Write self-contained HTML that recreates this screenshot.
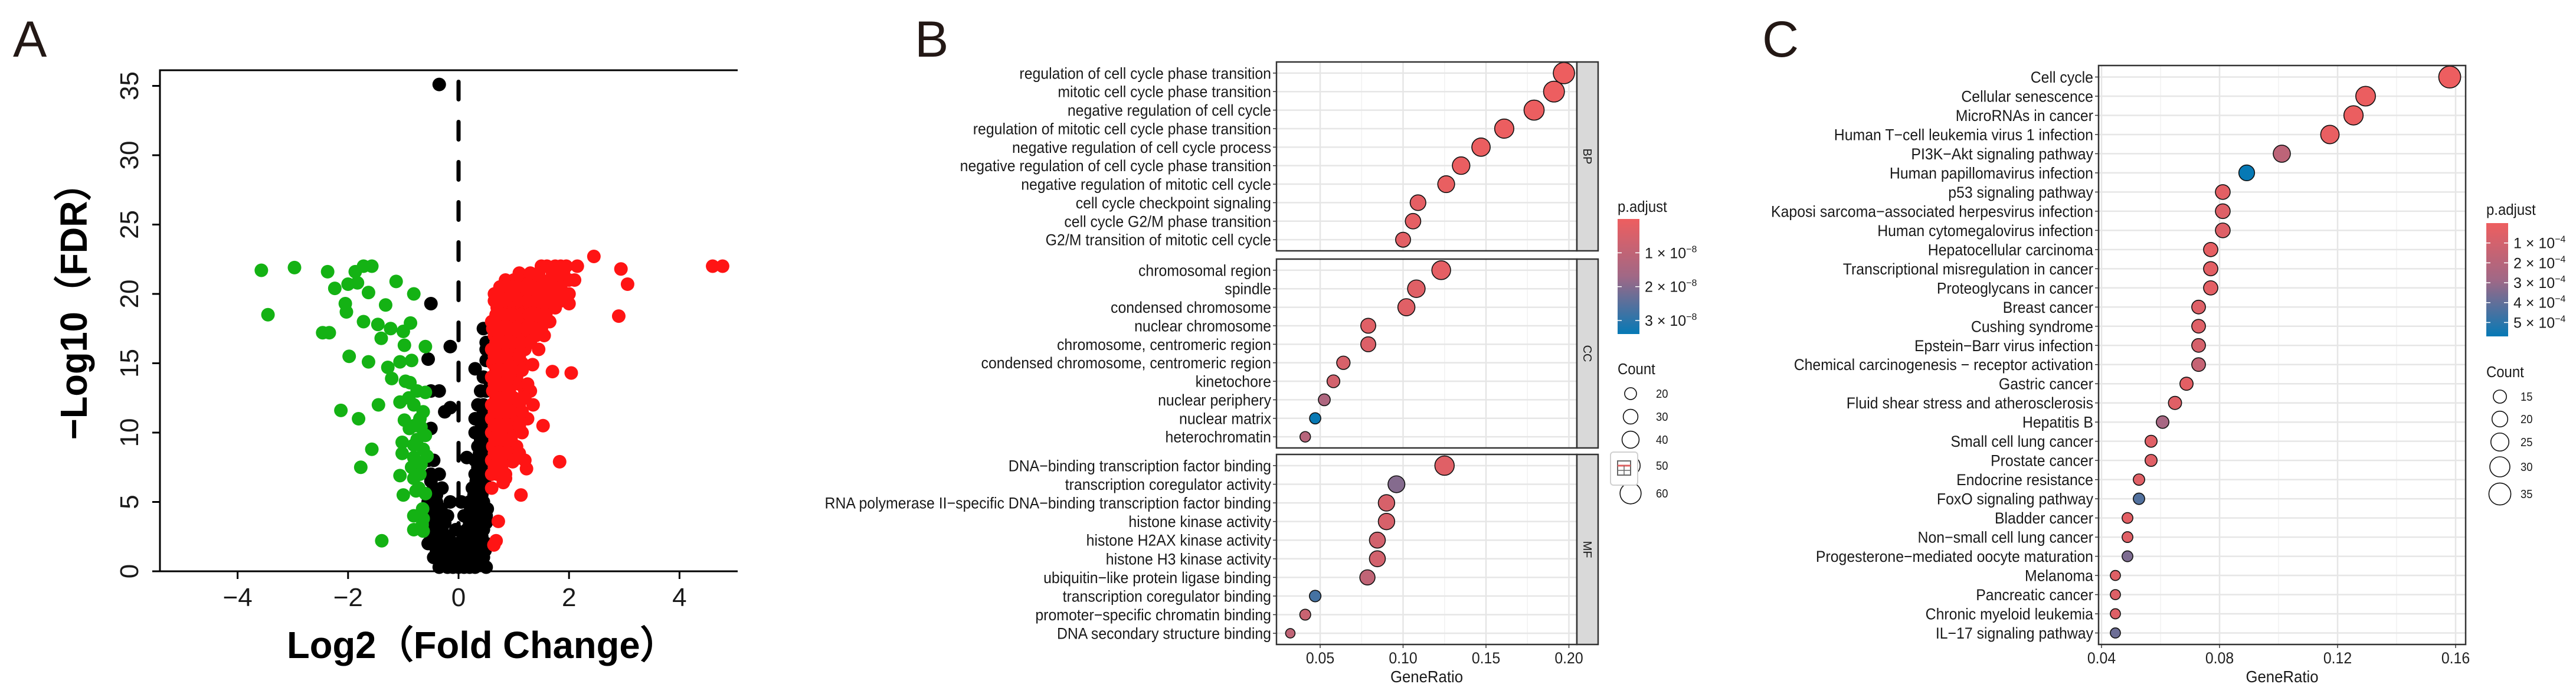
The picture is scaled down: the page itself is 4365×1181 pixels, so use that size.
<!DOCTYPE html>
<html><head><meta charset="utf-8"><title>Volcano and enrichment dot plots</title>
<style>
html,body{margin:0;padding:0;background:#fff;}
svg{display:block;font-family:"Liberation Sans",Arial,sans-serif;}
</style></head>
<body>
<svg id="fig" width="4365" height="1181" viewBox="0 0 4365 1181" xmlns="http://www.w3.org/2000/svg">
<rect x="0" y="0" width="4365" height="1181" fill="#fff"/>
<text x="22" y="96" font-size="86" fill="#231815">A</text>
<text x="1550" y="96" font-size="86" fill="#231815">B</text>
<text x="2986" y="96" font-size="86" fill="#231815">C</text>
<g id="pa"></g>
<g id="pb"></g>
<g id="pc"></g>
</svg>
<script>
// ---------- Panel A data (log2FC, -log10 FDR) ----------
const greenX = [-3.57,-2.97,-2.37,-2.24,-2.0,-1.87,-1.72,-1.57,-1.83,-1.63,-2.05,-2.03,-3.45,-1.32,-0.81,-1.13,-1.72,-1.46,-1.23,-1.0,-0.87,-2.46,-2.34,-1.40,-0.98,-0.6,-1.98,-1.63,-1.28,-1.06,-0.85,-1.21,-0.96,-0.88,-0.6,-1.06,-0.81,-0.64,-2.13,-1.45,-1.81,-0.98,-0.89,-0.68,-0.6,-1.02,-0.81,-0.64,-1.57,-1.02,-0.81,-0.57,-1.77,-1.06,-0.81,-1.0,-0.77,-0.6,-0.81,-0.64,-0.81,-0.64,-1.39,-0.85,-0.68,-0.7,-0.75,-0.7,-0.65,-0.9,-0.75,-0.8,-0.72,-0.66];
const greenY = [21.7,21.9,21.6,20.4,20.7,21.6,22.0,22.0,20.8,20.1,19.3,18.7,18.5,19.2,20.0,20.9,18.0,17.8,17.5,17.3,17.9,17.2,17.2,16.8,16.3,16.2,15.5,15.1,14.7,15.1,15.2,13.9,13.7,13.6,12.9,12.2,12.0,11.5,11.6,12.0,11.0,10.9,10.3,10.4,9.8,9.3,9.1,8.8,8.8,8.5,8.2,8.3,7.5,6.9,6.7,5.5,5.8,5.6,4.0,3.8,3.0,2.9,2.2,7.5,7.7,11.0,9.5,7.0,4.5,12.5,13.0,10.5,6.0,3.3];
const blackX = [-0.35,-0.5,-0.15,-0.55,0.3,-0.25,-0.15,-0.5,-0.35,0.45,0.5,0.5,0.55,-0.5,0.15,
 -0.35,-0.2,-0.1,0,0.1,0.2,0.3,0.5,
 -0.45,-0.3,-0.15,0.05,0.15,0.25,0.35,0.45,
 -0.55,-0.35,-0.25,-0.05,0.1,0.2,0.3,0.4,0.5,
 -0.45,-0.3,-0.05,0.15,0.25,0.35,0.45,
 -0.5,-0.35,-0.2,0.1,0.2,0.3,0.4,0.5,
 -0.55,-0.4,-0.15,0.05,0.2,0.3,0.45,
 -0.45,-0.3,0.25,0.35,0.45,0.5,
 -0.5,-0.35,0.3,0.4,0.5,
 -0.55,-0.45,0.3,0.4,0.5,
 0.35,0.45,0.5, 0.3,0.4,0.5, 0.3,0.4,0.5, 0.35,0.45, 0.4,0.5, 0.45, 0.5,
 -0.28,-0.12,0.08,0.25,0.4, -0.4,-0.22,0.0,0.18,0.33,0.48, -0.5,-0.38,-0.18,0.12,0.28,0.42,
 -0.42,-0.25,0.2,0.35,0.5, -0.48,-0.32,0.22,0.38,0.52, -0.4,0.28,0.42, -0.5,0.32,0.47,
 0.35,0.5, 0.38,0.52, 0.4,0.5, 0.42,0.52, 0.45];
const blackY = [35.1,19.3,16.2,15.3,14.6,11.5,11.8,13.0,13.0,17.5,16.5,15.2,13.8,10.3,8.2,
 0.3,0.3,0.3,0.3,0.3,0.3,0.3,0.3,
 1,1,1,1,1,1,1,1,
 2,2,2,2,2,2,2,2,2,
 3,3,3,3,3,3,3,
 4,4,4,4,4,4,4,4,
 5,5,5,5,5,5,5,
 6,6,6,6,6,6,
 7,7,7,7,7,
 8,8,8,8,8,
 9,9,9, 10,10,10, 11,11,11, 12,12, 13,13, 14, 16,
 0.7,0.7,0.7,0.7,0.7, 1.5,1.5,1.5,1.5,1.5,1.5, 2.5,2.5,2.5,2.5,2.5,2.5,
 3.5,3.5,3.5,3.5,3.5, 4.5,4.5,4.5,4.5,4.5, 5.5,5.5,5.5, 6.5,6.5,6.5,
 7.5,7.5, 8.5,8.5, 9.5,9.5, 10.5,10.5, 11.5];
const redX = [2.45,2.94,3.06,2.9,2.04,1.53,1.83,1.13,4.6,4.78,2.0,1.7,1.34,0.72,0.64,0.68,0.6,0.81,0.85,1.23,0.98,
 1.5,1.6,1.75,1.85,1.95,2.15,
 0.85,1.0,1.2,1.35,1.5,1.65,1.8,2.0,2.1,
 0.65,0.8,0.95,1.1,1.25,1.4,1.55,1.7,1.9,2.0,
 0.7,0.85,1.0,1.15,1.3,1.45,1.6,1.75,
 0.6,0.75,0.9,1.05,1.2,1.35,1.5,1.65,
 0.65,0.8,0.95,1.1,1.25,1.4,1.55,
 0.6,0.75,0.9,1.05,1.2,1.45,
 0.62,0.78,0.92,1.05,1.15,
 0.6,0.75,0.9,1.05,
 0.62,0.78,0.92,1.2,1.3,
 0.6,0.75,0.9,1.1,1.35,
 0.6,0.75,0.88,1.05,1.25,
 0.6,0.72,0.85,1.0,1.15,
 0.62,0.75,0.9,1.05,
 0.6,0.72,0.85,1.0,1.2,
 0.6,0.7,0.85,
 1.1,1.3,1.45,1.7,1.9,
 0.75,0.9,1.05,1.2,1.35,1.5,1.65,1.85,
 0.65,0.8,0.95,1.1,1.25,1.4,1.55,1.7,1.85,
 0.68,0.83,0.98,1.13,1.28,1.43,1.58,
 0.62,0.77,0.92,1.07,1.22,1.37,1.5,
 0.68,0.83,0.98,1.13,1.3,
 0.65,0.8,0.95,1.1,
 0.68,0.83,1.0,1.15,
 0.65,0.8,0.95,1.1,1.25,
 0.68,0.82,1.0,1.2,
 0.65,0.8,0.95,1.15,
 0.65,0.78,0.92,1.1,
 0.66,0.8,0.95,
 0.65,0.8,0.95,1.1,
 0.65,0.78];
const redY = [22.7,21.8,20.7,18.4,14.3,10.5,7.9,5.5,22.0,22.0,19.3,14.4,14.9,3.6,1.9,2.2,6.0,6.4,6.7,7.4,7.9,
 22,22,22,22,22,22,
 21,21,21,21,21,21,21,21,21,
 20,20,20,20,20,20,20,20,20,20,
 19,19,19,19,19,19,19,19,
 18,18,18,18,18,18,18,18,
 17,17,17,17,17,17,17,
 16,16,16,16,16,16,
 15,15,15,15,15,
 14,14,14,14,
 13,13,13,13,13,
 12,12,12,12,12,
 11,11,11,11,11,
 10,10,10,10,10,
 9,9,9,9,
 8,8,8,8,8,
 7,7,7,
 21.5,21.5,21.5,21.5,21.5,
 20.5,20.5,20.5,20.5,20.5,20.5,20.5,20.5,
 19.5,19.5,19.5,19.5,19.5,19.5,19.5,19.5,19.5,
 18.5,18.5,18.5,18.5,18.5,18.5,18.5,
 17.5,17.5,17.5,17.5,17.5,17.5,17.5,
 16.5,16.5,16.5,16.5,16.5,
 15.5,15.5,15.5,15.5,
 14.5,14.5,14.5,14.5,
 13.5,13.5,13.5,13.5,13.5,
 12.5,12.5,12.5,12.5,
 11.5,11.5,11.5,11.5,
 10.5,10.5,10.5,10.5,
 9.5,9.5,9.5,
 8.5,8.5,8.5,8.5,
 7.5,7.5];
const aXTicks = [-4,-2,0,2,4];
const aYTicks = [0,5,10,15,20,25,30,35];

// ---------- Panel B data ----------
const bpTerms = ["regulation of cell cycle phase transition","mitotic cell cycle phase transition","negative regulation of cell cycle","regulation of mitotic cell cycle phase transition","negative regulation of cell cycle process","negative regulation of cell cycle phase transition","negative regulation of mitotic cell cycle","cell cycle checkpoint signaling","cell cycle G2/M phase transition","G2/M transition of mitotic cell cycle"];
const bpRatio = [0.197,0.191,0.179,0.161,0.147,0.135,0.126,0.109,0.106,0.100];
const bpCount = [61,59,55,50,46,42,39,34,33,31];
const bpP = [0.02e-8,0.03e-8,0.04e-8,0.05e-8,0.06e-8,0.07e-8,0.1e-8,0.2e-8,0.2e-8,0.25e-8];
const ccTerms = ["chromosomal region","spindle","condensed chromosome","nuclear chromosome","chromosome, centromeric region","condensed chromosome, centromeric region","kinetochore","nuclear periphery","nuclear matrix","heterochromatin"];
const ccRatio = [0.123,0.108,0.102,0.079,0.079,0.064,0.058,0.0525,0.047,0.041];
const ccCount = [48,42,40,31,31,25,23,20,18,16];
const ccP = [0.2e-8,0.3e-8,0.3e-8,0.3e-8,0.4e-8,0.5e-8,0.6e-8,1.4e-8,3.38e-8,1.2e-8];
const mfTerms = ["DNA\u2212binding transcription factor binding","transcription coregulator activity","RNA polymerase II\u2212specific DNA\u2212binding transcription factor binding","histone kinase activity","histone H2AX kinase activity","histone H3 kinase activity","ubiquitin\u2212like protein ligase binding","transcription coregulator binding","promoter\u2212specific chromatin binding","DNA secondary structure binding"];
const mfRatio = [0.125,0.096,0.090,0.090,0.0845,0.0845,0.0785,0.047,0.041,0.032];
const mfCount = [51,39,37,37,35,35,32,19,17,13];
const mfP = [0.3e-8,2.0e-8,0.5e-8,0.5e-8,0.6e-8,0.6e-8,1.0e-8,2.7e-8,0.8e-8,1.0e-8];
const bXTicks = [0.05,0.10,0.15,0.20];
const bLegendCounts = [20,30,40,50,60];
const bLegendP = [1e-8,2e-8,3e-8];

// ---------- Panel C data ----------
const cTerms = ["Cell cycle","Cellular senescence","MicroRNAs in cancer","Human T\u2212cell leukemia virus 1 infection","PI3K\u2212Akt signaling pathway","Human papillomavirus infection","p53 signaling pathway","Kaposi sarcoma\u2212associated herpesvirus infection","Human cytomegalovirus infection","Hepatocellular carcinoma","Transcriptional misregulation in cancer","Proteoglycans in cancer","Breast cancer","Cushing syndrome","Epstein\u2212Barr virus infection","Chemical carcinogenesis \u2212 receptor activation","Gastric cancer","Fluid shear stress and atherosclerosis","Hepatitis B","Small cell lung cancer","Prostate cancer","Endocrine resistance","FoxO signaling pathway","Bladder cancer","Non\u2212small cell lung cancer","Progesterone\u2212mediated oocyte maturation","Melanoma","Pancreatic cancer","Chronic myeloid leukemia","IL\u221217 signaling pathway"];
const cRatio = [0.158,0.1295,0.1254,0.1174,0.1011,0.0892,0.0811,0.0811,0.0811,0.077,0.077,0.077,0.0729,0.0729,0.0729,0.0729,0.0688,0.0649,0.0607,0.0568,0.0568,0.0527,0.0527,0.0488,0.0488,0.0488,0.0447,0.0447,0.0447,0.0447];
const cCount = [35,29,28,26,23,20,18,18,18,17,17,17,16,16,16,16,15,15,14,13,13,12,12,11,11,11,10,10,10,10];
const cP = [0.05e-4,0.1e-4,0.1e-4,0.2e-4,1.8e-4,5.7e-4,0.4e-4,0.6e-4,0.6e-4,0.3e-4,0.4e-4,0.4e-4,0.6e-4,0.6e-4,0.9e-4,1.5e-4,0.4e-4,0.5e-4,2.6e-4,0.5e-4,0.5e-4,0.5e-4,4.3e-4,0.4e-4,0.5e-4,3.5e-4,0.5e-4,0.6e-4,0.6e-4,3.8e-4];
const cXTicks = [0.04,0.08,0.12,0.16];
const cLegendCounts = [15,20,25,30,35];
const cLegendP = [1e-4,2e-4,3e-4,4e-4,5e-4];

// ---------- helpers ----------
const NS = "http://www.w3.org/2000/svg";
function mk(parent, tag, attrs){ const e=document.createElementNS(NS,tag); for(const k in attrs) e.setAttribute(k,attrs[k]); parent.appendChild(e); return e; }
function txt(parent, s, x, y, size, anchor, sx, extra){
  const t=document.createElementNS(NS,"text");
  t.setAttribute("transform","translate("+x+","+y+") scale("+sx+",1)");
  t.setAttribute("font-size",size); t.setAttribute("text-anchor",anchor||"start");
  t.setAttribute("fill",(extra&&extra.fill)||"#1a1a1a");
  if(extra&&extra.weight) t.setAttribute("font-weight",extra.weight);
  t.textContent=s; parent.appendChild(t); return t;
}
const C_LO=[238,94,95], C_MID=[160,104,134], C_HI=[6,121,181];
function pcol(p, lo, hi){
  let f=(p-lo)/(hi-lo); f=Math.max(0,Math.min(1,f));
  let a,b,g; if(f<0.5){a=C_LO;b=C_MID;g=f*2;} else {a=C_MID;b=C_HI;g=(f-0.5)*2;}
  const c=a.map((v,i)=>Math.round(v+(b[i]-v)*g)); return "rgb("+c.join(",")+")";
}

// ---------- Panel A ----------
(function(){
  const g=document.getElementById("pa");
  const ax=v=>777+93.6*v, ay=v=>968-23.5*v;
  const dl=mk(g,"line",{x1:ax(0),x2:ax(0),y1:ay(35.3),y2:ay(0),stroke:"#000","stroke-width":7,"stroke-dasharray":"30,38","stroke-linecap":"round"});
  
  
  function pts(X,Y,col,name){
    for(let i=0;i<X.length;i++){
      const c=mk(g,"circle",{cx:ax(X[i]),cy:ay(Y[i]),r:11.5,fill:col});
      
      
    }
  }
  pts(blackX,blackY,"#000","gene-point-ns");
  pts(greenX,greenY,"#14b214","gene-point-down");
  pts(redX,redY,"#ff1414","gene-point-up");
  mk(g,"path",{d:"M1250,119 L271,119 L271,968 L1250,968",fill:"none",stroke:"#000","stroke-width":3});
  aXTicks.forEach(v=>{
    mk(g,"line",{x1:ax(v),x2:ax(v),y1:968,y2:981,stroke:"#000","stroke-width":3});
    const t=txt(g,(v<0?"\u2212":"")+Math.abs(v),ax(v),1027,44,"middle",1);
    
    
  });
  aYTicks.forEach(v=>{
    mk(g,"line",{x1:258,x2:271,y1:ay(v),y2:ay(v),stroke:"#000","stroke-width":3});
    const t=document.createElementNS(NS,"text");
    t.setAttribute("transform","translate(234,"+ay(v)+") rotate(-90)");
    t.setAttribute("font-size",44); t.setAttribute("text-anchor","middle"); t.setAttribute("fill","#1a1a1a");
    t.textContent=v; g.appendChild(t);
    
    
  });
  const xt=txt(g,"Log2\uFF08Fold Change\uFF09",817,1115,64,"middle",1,{weight:"bold",fill:"#000"});
  xt.setAttribute("textLength",662); xt.setAttribute("lengthAdjust","spacingAndGlyphs");
  
  
  const yt=document.createElementNS(NS,"text");
  yt.setAttribute("transform","translate(147,512) rotate(-90)");
  yt.setAttribute("font-size",64); yt.setAttribute("font-weight","bold"); yt.setAttribute("text-anchor","middle");
  yt.setAttribute("textLength",466); yt.setAttribute("lengthAdjust","spacingAndGlyphs");
  yt.textContent="\u2212Log10\uFF08FDR\uFF09"; g.appendChild(yt);
  
  
})();

// ---------- dot plot helper ----------
function dotPanel(g, o){
  const xs=v=>o.x0+(v-o.v0)*o.k;
  o.facets.forEach(f=>{
    const H=f.bot-f.top, n=f.terms.length, u=H/(n-1+1.2);
    const yr=i=>f.top+(0.6+i)*u;
    mk(g,"rect",{x:o.left,y:f.top,width:o.right-o.left,height:H,fill:"#fff"});
    o.minor.forEach(v=>{ if(xs(v)>o.left&&xs(v)<o.right) mk(g,"line",{x1:xs(v),x2:xs(v),y1:f.top,y2:f.bot,stroke:"#f2f2f2","stroke-width":1.5}); });
    o.ticks.forEach(v=>mk(g,"line",{x1:xs(v),x2:xs(v),y1:f.top,y2:f.bot,stroke:"#e6e6e6","stroke-width":2.5}));
    f.terms.forEach((t,i)=>{
      mk(g,"line",{x1:o.left,x2:o.right,y1:yr(i),y2:yr(i),stroke:"#e6e6e6","stroke-width":2.5});
      mk(g,"line",{x1:o.left-6,x2:o.left,y1:yr(i),y2:yr(i),stroke:"#333","stroke-width":1.5});
      const lt=txt(g,t,o.left-9,yr(i)+9.5,27,"end",0.92);
      
      
    });
    f.terms.forEach((t,i)=>{
      const d=o.dia(f.count[i]);
      const c=mk(g,"circle",{cx:xs(f.ratio[i]),cy:yr(i),r:d/2,fill:pcol(f.p[i],o.plo,o.phi),stroke:"#111","stroke-width":1.6});
      
      
    });
    mk(g,"rect",{x:o.left,y:f.top,width:o.right-o.left,height:H,fill:"none",stroke:"#333","stroke-width":2.5});
    if(f.strip){
      mk(g,"rect",{x:o.right,y:f.top,width:36,height:H,fill:"#d9d9d9",stroke:"#333","stroke-width":2.5});
      const st=document.createElementNS(NS,"text");
      st.setAttribute("transform","translate("+(o.right+11)+","+((f.top+f.bot)/2)+") rotate(90)");
      st.setAttribute("font-size",20); st.setAttribute("text-anchor","middle"); st.setAttribute("fill","#1a1a1a");
      st.textContent=f.strip; g.appendChild(st);
      
      
    }
  });
  const last=o.facets[o.facets.length-1].bot;
  o.ticks.forEach(v=>{
    mk(g,"line",{x1:xs(v),x2:xs(v),y1:last,y2:last+6,stroke:"#333","stroke-width":1.5});
    const t=txt(g,o.fmt(v),xs(v),1124,27,"middle",0.92,{fill:"#222"});
    
    
  });
  const gt=txt(g,"GeneRatio",(o.left+o.right)/2,1156,28,"middle",0.92);
  
  
  const L=o.leg;
  const tt=txt(g,"p.adjust",L.x,L.titleY,26,"start",0.92);
  
  
  const gid="grad"+o.id;
  const defs=mk(g,"defs",{}); const lg=mk(defs,"linearGradient",{id:gid,x1:0,y1:0,x2:0,y2:1});
  for(let s=0;s<=10;s++){ mk(lg,"stop",{offset:s/10,"stop-color":pcol(o.plo+(o.phi-o.plo)*s/10,o.plo,o.phi)}); }
  const cb=mk(g,"rect",{x:L.x,y:L.barTop,width:37,height:L.barBot-L.barTop,fill:"url(#"+gid+")"});
  
  
  const py=p=>L.barTop+(p-o.plo)/(o.phi-o.plo)*(L.barBot-L.barTop);
  o.legP.forEach(p=>{
    const y=py(p);
    mk(g,"line",{x1:L.x,x2:L.x+7,y1:y,y2:y,stroke:"#fff","stroke-width":1.5});
    mk(g,"line",{x1:L.x+30,x2:L.x+37,y1:y,y2:y,stroke:"#fff","stroke-width":1.5});
    const m=Math.round(p/Math.pow(10,o.exp));
    const t=document.createElementNS(NS,"text");
    t.setAttribute("x",L.x+46); t.setAttribute("y",y+9); t.setAttribute("font-size",25); t.setAttribute("fill","#1a1a1a");
    t.textContent=m+" \u00d7 10"; const sp=document.createElementNS(NS,"tspan");
    sp.setAttribute("dy",-10); sp.setAttribute("font-size",16); sp.textContent="\u2212"+(-o.exp); t.appendChild(sp); g.appendChild(t);
    
    
  });
  const ct=txt(g,"Count",L.x,L.countY,26,"start",0.92);
  
  
  o.legC.forEach((c,i)=>{
    const y=L.cys[i];
    const cc=mk(g,"circle",{cx:L.cx,cy:y,r:o.dia(c)/2,fill:"none",stroke:"#111","stroke-width":1.6});
    
    
    const t=txt(g,String(c),L.lx,y+7,20,"start",0.92);
    
    
  });
}

// ---------- Panel B ----------
dotPanel(document.getElementById("pb"),{
  id:"b", left:2163, right:2672, x0:2237, v0:0.05, k:2810,
  ticks:bXTicks, minor:[0.025,0.075,0.125,0.175], fmt:v=>v.toFixed(2),
  dia:c=>4.76*Math.sqrt(c)-1.2, plo:0, phi:3.4e-8, exp:-8,
  facets:[
    {top:105,bot:425,terms:bpTerms,ratio:bpRatio,count:bpCount,p:bpP,strip:"BP"},
    {top:439,bot:759,terms:ccTerms,ratio:ccRatio,count:ccCount,p:ccP,strip:"CC"},
    {top:770,bot:1092,terms:mfTerms,ratio:mfRatio,count:mfCount,p:mfP,strip:"MF"}],
  legP:bLegendP, legC:bLegendCounts,
  leg:{x:2741,titleY:359,barTop:371,barBot:566,countY:634,cx:2763,lx:2806,cys:[667,706,745,789,836]}
});
(function(){
  const g=document.getElementById("pb");
  const r=mk(g,"rect",{x:2729,y:766,width:46,height:56,rx:5,fill:"#fff",stroke:"#d0d0d0","stroke-width":2});
  
  
  mk(g,"rect",{x:2741,y:781,width:22,height:24,fill:"none",stroke:"#666","stroke-width":2});
  mk(g,"line",{x1:2741,x2:2763,y1:789,y2:789,stroke:"#e06060","stroke-width":3});
  mk(g,"line",{x1:2741,x2:2763,y1:797,y2:797,stroke:"#666","stroke-width":1.5});
  mk(g,"line",{x1:2752,x2:2752,y1:789,y2:805,stroke:"#666","stroke-width":1.5});
})();

// ---------- Panel C ----------
dotPanel(document.getElementById("pc"),{
  id:"c", left:3556, right:4178, x0:3561, v0:0.04, k:5000,
  ticks:cXTicks, minor:[0.06,0.10,0.14], fmt:v=>v.toFixed(2),
  dia:c=>7.3*Math.sqrt(c)-6, plo:0, phi:5.7e-4, exp:-4,
  facets:[{top:111,bot:1092,terms:cTerms,ratio:cRatio,count:cCount,p:cP,strip:null}],
  legP:cLegendP, legC:cLegendCounts,
  leg:{x:4213,titleY:364,barTop:378,barBot:570,countY:639,cx:4236,lx:4271,cys:[672,710,749,791,837]}
});
</script>
</body></html>
